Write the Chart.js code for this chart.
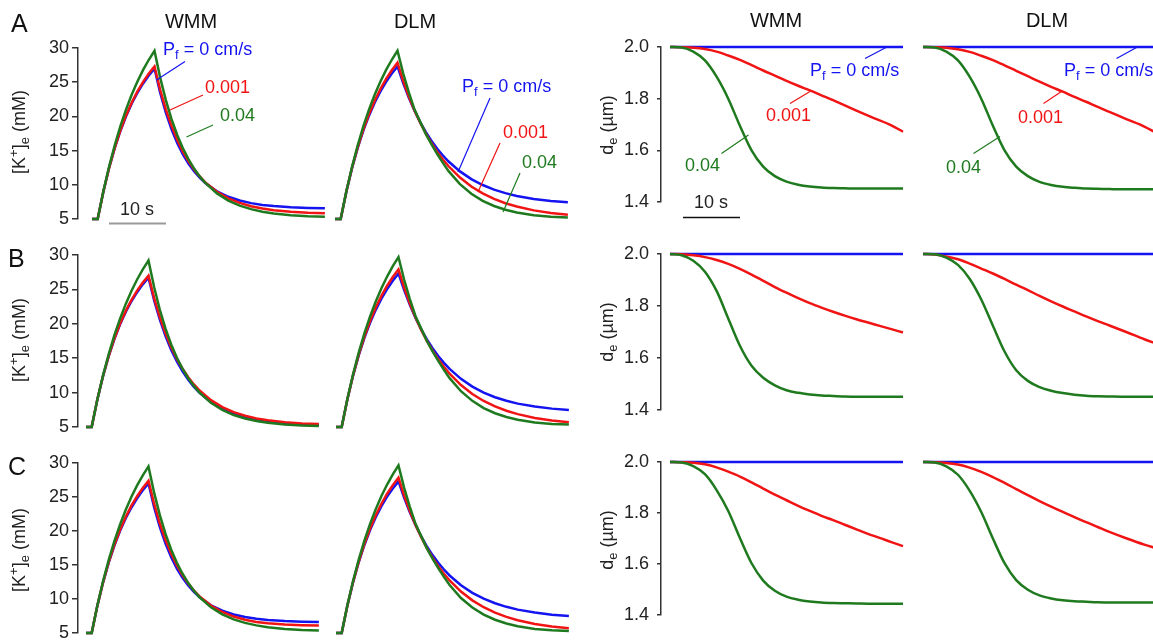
<!DOCTYPE html>
<html><head><meta charset="utf-8">
<script src="https://cdn.jsdelivr.net/npm/chart.js@4.4.1/dist/chart.umd.min.js"></script>
<style>
html,body{margin:0;padding:0;background:#fff;overflow:hidden;}
#fig{position:relative;width:1153px;height:641px;overflow:hidden;font-family:"Liberation Sans",Arial,Helvetica,sans-serif;}
#fig canvas{position:absolute;}
.t{position:absolute;white-space:nowrap;line-height:1;z-index:5;}
.t sub{font-size:72%;line-height:0;vertical-align:-0.32em;}
.t sup{font-size:72%;line-height:0;vertical-align:0.55em;}
.rot{position:absolute;white-space:nowrap;line-height:1;transform:translate(-50%,-50%) rotate(-90deg);z-index:5;}
.rot sub{font-size:72%;line-height:0;vertical-align:-0.32em;}
.rot sup{font-size:72%;line-height:0;vertical-align:0.55em;}
svg{position:absolute;left:0;top:0;z-index:4;}
</style></head>
<body><div id="fig"></div>
<script>
// ---------------- DATA ----------------
// time grid for [K+]e traces (s)
const tK = [0,1,2,3,4,5,6,7,8,9,10,11,12,13,14,15,16,17,18,19,20,22,24,26,28,30,32,35,38,41];
// time grid for de traces (s)
const tD = [0,2,4,6,8,10,12,14,16,18,20,22,24,26,28,30,32,35,38,40];

const seriesNames = ["Pf = 0 cm/s", "0.001", "0.04"];

// Row A, [K+]e (mM)
const kA_WMM_blue  = [5,5,8.99,12.42,15.35,17.87,20.03,21.88,23.46,24.82,25.99,26.99,23.46,20.54,18.12,16.11,14.45,13.08,11.95,11.01,10.23,9.05,8.25,7.70,7.32,7.06,6.89,6.72,6.62,6.57];
const kA_WMM_red   = [5,5,9.00,12.44,15.40,17.95,20.15,22.03,23.66,25.05,26.26,27.29,23.90,21.03,18.61,16.58,14.86,13.42,12.20,11.18,10.31,8.97,8.02,7.35,6.87,6.53,6.29,6.05,5.91,5.83];
const kA_WMM_green = [5,5,9.05,12.63,15.78,18.57,21.02,23.19,25.11,26.79,28.28,29.6,25.67,22.38,19.61,17.29,15.35,13.72,12.34,11.19,10.23,8.74,7.69,6.96,6.44,6.07,5.81,5.56,5.41,5.33];
const kA_DLM_blue  = [5,5,9.00,12.44,15.40,17.95,20.15,22.03,23.66,25.05,26.26,27.3,24.86,22.71,20.82,19.16,17.69,16.41,15.27,14.28,13.40,11.96,10.83,9.97,9.30,8.78,8.37,7.94,7.64,7.44];
const kA_DLM_red   = [5,5,9.01,12.49,15.50,18.11,20.36,22.32,24.01,25.48,26.75,27.85,25.21,22.92,20.88,19.08,17.48,16.07,14.81,13.70,12.71,11.06,9.76,8.74,7.94,7.31,6.82,6.26,5.88,5.61];
const kA_DLM_green = [5,5,9.05,12.63,15.78,18.57,21.02,23.19,25.11,26.79,28.28,29.6,26.3,23.5,21.0,19.2,17.4,15.9,14.5,13.2,12.0,10.1,8.7,7.65,6.9,6.35,5.95,5.55,5.33,5.22];
// Row B
const kB_WMM_blue  = [5,5,8.99,12.40,15.31,17.79,19.92,21.73,23.28,24.60,25.73,26.70,23.39,20.59,18.22,16.21,14.52,13.08,11.86,10.83,9.96,8.60,7.62,6.92,6.42,6.06,5.80,5.54,5.39,5.29];
const kB_WMM_red   = [5,5,8.99,12.42,15.35,17.87,20.03,21.88,23.46,24.82,25.99,26.99,23.74,20.97,18.62,16.61,14.91,13.46,12.23,11.19,10.30,8.90,7.89,7.16,6.63,6.25,5.97,5.69,5.52,5.42];
const kB_WMM_green = [5,5,8.98,12.51,15.60,18.35,20.76,22.89,24.78,26.44,27.90,29.2,25.31,22.04,19.29,17.00,15.06,13.45,12.09,10.95,9.99,8.51,7.47,6.74,6.23,5.86,5.61,5.36,5.21,5.13];
const kB_DLM_blue  = [5,5,9.00,12.44,15.40,17.95,20.15,22.03,23.66,25.05,26.26,27.3,24.9,22.75,20.86,19.2,17.73,16.45,15.32,14.33,13.45,12.0,10.87,10.0,9.33,8.81,8.4,7.97,7.67,7.47];
const kB_DLM_red   = [5,5,9.01,12.5,15.52,18.14,20.4,22.36,24.05,25.53,26.8,27.9,25.25,22.95,20.9,19.1,17.5,16.1,14.85,13.74,12.75,11.1,9.8,8.78,7.99,7.36,6.87,6.32,5.94,5.68];
const kB_DLM_green = [5,5,9.06,12.65,15.81,18.61,21.07,23.25,25.18,26.87,28.37,29.7,26.4,23.6,21.1,19.3,17.5,16.0,14.6,13.3,12.1,10.2,8.8,7.75,7.0,6.45,6.05,5.65,5.45,5.36];
// Row C
const kC_WMM_blue  = [5,5,8.99,12.42,15.35,17.87,20.03,21.88,23.46,24.82,25.99,26.99,23.47,20.56,18.15,16.14,14.48,13.11,11.98,11.04,10.26,9.08,8.28,7.73,7.35,7.09,6.92,6.75,6.65,6.6];
const kC_WMM_red   = [5,5,9.00,12.45,15.42,17.98,20.19,22.08,23.72,25.12,26.33,27.4,23.98,21.1,18.68,16.65,14.93,13.49,12.27,11.25,10.38,9.04,8.09,7.42,6.95,6.63,6.42,6.24,6.15,6.1];
const kC_WMM_green = [5,5,9.04,12.61,15.75,18.52,20.96,23.12,25.03,26.7,28.18,29.5,25.6,22.33,19.57,17.26,15.33,13.71,12.34,11.2,10.25,8.77,7.73,7.0,6.49,6.12,5.86,5.6,5.44,5.35];
const kC_DLM_blue  = [5,5,9.00,12.44,15.40,17.95,20.15,22.03,23.66,25.05,26.26,27.3,24.88,22.74,20.86,19.2,17.74,16.46,15.33,14.34,13.46,12.02,10.9,10.04,9.37,8.85,8.44,8.0,7.7,7.5];
const kC_DLM_red   = [5,5,9.01,12.49,15.50,18.11,20.36,22.32,24.01,25.48,26.75,27.85,25.21,22.92,20.88,19.08,17.48,16.07,14.82,13.72,12.73,11.09,9.8,8.79,8.0,7.37,6.88,6.33,5.96,5.7];
const kC_DLM_green = [5,5,9.06,12.65,15.8,18.6,21.05,23.22,25.15,26.83,28.33,29.65,26.35,23.55,21.05,19.25,17.45,15.95,14.55,13.25,12.05,10.15,8.75,7.7,6.95,6.4,6.0,5.6,5.4,5.3];

// de (um)
const dBlue        = [2.0,2.0,2.0,2.0,2.0,2.0,2.0,2.0,2.0,2.0,2.0,2.0,2.0,2.0,2.0,2.0,2.0,2.0,2.0,2.0];
const dA_WMM_red   = [2.000,1.999,1.997,1.992,1.982,1.967,1.950,1.930,1.909,1.889,1.869,1.850,1.832,1.813,1.794,1.774,1.754,1.725,1.697,1.672];
const dA_WMM_green = [2.000,1.998,1.982,1.948,1.885,1.800,1.695,1.600,1.537,1.500,1.479,1.467,1.460,1.456,1.454,1.453,1.452,1.452,1.452,1.452];
const dA_DLM_red   = [2.000,1.999,1.997,1.991,1.981,1.966,1.949,1.929,1.908,1.887,1.866,1.846,1.827,1.807,1.788,1.768,1.749,1.720,1.692,1.668];
const dA_DLM_green = [2.000,1.998,1.982,1.948,1.885,1.800,1.695,1.600,1.537,1.500,1.478,1.466,1.459,1.455,1.452,1.451,1.450,1.449,1.449,1.449];
const dB_WMM_red   = [2.000,1.999,1.995,1.988,1.977,1.962,1.943,1.921,1.897,1.873,1.851,1.830,1.811,1.794,1.778,1.763,1.749,1.730,1.711,1.698];
const dB_WMM_green = [2.000,1.995,1.974,1.932,1.858,1.752,1.647,1.570,1.524,1.495,1.476,1.466,1.460,1.456,1.454,1.452,1.451,1.451,1.451,1.451];
const dB_DLM_red   = [2.000,1.998,1.990,1.980,1.963,1.944,1.925,1.904,1.882,1.861,1.839,1.818,1.798,1.779,1.760,1.742,1.725,1.699,1.672,1.656];
const dB_DLM_green = [2.000,1.999,1.986,1.958,1.905,1.825,1.724,1.625,1.553,1.512,1.488,1.474,1.465,1.459,1.455,1.453,1.452,1.451,1.451,1.451];
const dC_WMM_red   = [2.000,1.999,1.997,1.991,1.979,1.962,1.943,1.920,1.896,1.872,1.850,1.828,1.808,1.789,1.772,1.754,1.736,1.710,1.686,1.670];
const dC_WMM_green = [2.000,1.998,1.984,1.952,1.890,1.808,1.702,1.603,1.535,1.495,1.472,1.460,1.453,1.449,1.447,1.446,1.445,1.444,1.444,1.444];
const dC_DLM_red   = [2.000,1.999,1.996,1.990,1.978,1.961,1.941,1.918,1.894,1.870,1.847,1.825,1.804,1.784,1.764,1.745,1.726,1.700,1.676,1.662];
const dC_DLM_green = [2.000,1.998,1.983,1.950,1.888,1.804,1.700,1.603,1.537,1.499,1.477,1.465,1.458,1.454,1.452,1.450,1.449,1.449,1.449,1.449];

const kTicks = [5,10,15,20,25,30];
const dTicks = [1.4,1.6,1.8,2.0];

// ---------------- STYLE ----------------
const BLUE = '#1414f0', RED = '#f01414', GREEN = '#1f7a1f';
const FONT = '"Liberation Sans", Arial, Helvetica, sans-serif';
const fig = document.getElementById('fig');

function makePanel(p, vals) {
  const AXW = 60, PADV = 24, PADR = 6, PADL = 6;
  const leftArea = p.axis ? p.axisX : p.t0X;
  const rightArea = p.t0X + p.tMax * p.pxs;
  const cl = leftArea - (p.axis ? AXW : PADL);
  const ct = p.yTop - PADV;
  const cw = Math.ceil(rightArea + PADR - cl);
  const ch = Math.ceil(p.yBot + PADV - ct);
  const cv = document.createElement('canvas');
  cv.width = cw; cv.height = ch;
  cv.style.left = cl + 'px'; cv.style.top = ct + 'px';
  cv.style.width = cw + 'px'; cv.style.height = ch + 'px';
  fig.appendChild(cv);
  const cols = [BLUE, RED, GREEN];
  const datasets = vals.map((v, j) => ({
    label: seriesNames[j],
    data: p.t.map((t, i) => ({x: t, y: v[i]})),
    borderColor: cols[j], borderWidth: 2.5, pointRadius: 0,
    tension: p.smooth ? 0.4 : 0,
    cubicInterpolationMode: p.smooth ? 'monotone' : 'default',
    clip: false, fill: false, order: 2 - j
  }));
  new Chart(cv, {
    type: 'line',
    data: {datasets},
    options: {
      responsive: false, animation: false, devicePixelRatio: 1,
      layout: {padding: {left: p.axis ? 0 : PADL, right: cw - (rightArea - cl), top: PADV, bottom: ch - (p.yBot - ct)}},
      plugins: {legend: {display: false}, tooltip: {enabled: false}},
      scales: {
        x: {type: 'linear', display: false, min: -(p.t0X - leftArea) / p.pxs, max: p.tMax},
        y: {
          type: 'linear', display: p.axis, min: p.ticks[0], max: p.ticks[p.ticks.length - 1],
          afterFit: s => { if (p.axis) s.width = AXW; },
          afterBuildTicks: s => { s.ticks = p.ticks.map(v => ({value: v})); },
          ticks: {font: {family: FONT, size: 18}, color: '#222', padding: p.tickPad,
                  callback: v => Number(v).toFixed(p.dec)},
          grid: {drawOnChartArea: false, drawTicks: true, tickLength: p.tickLen, color: '#333', lineWidth: 1.5},
          border: {display: true, color: '#333', width: 1.5}
        }
      }
    }
  });
}

// geometry of each panel (page pixels)
const rowsK = [{yTop: 48, yBot: 219, wmm: 92, dlm: 335}, {yTop: 255, yBot: 427, wmm: 86, dlm: 336}, {yTop: 463, yBot: 633, wmm: 86, dlm: 336}];
const rowsD = [{yTop: 47, yBot: 202, ax: 661, wmm: 670, dlm: 923, pxs: 5.825},
               {yTop: 254, yBot: 410, ax: 661, wmm: 670, dlm: 923, pxs: 5.825},
               {yTop: 462, yBot: 615, ax: 661, wmm: 670, dlm: 923, pxs: 5.825}];
const kData = [[kA_WMM_blue,kA_WMM_red,kA_WMM_green],[kA_DLM_blue,kA_DLM_red,kA_DLM_green],
               [kB_WMM_blue,kB_WMM_red,kB_WMM_green],[kB_DLM_blue,kB_DLM_red,kB_DLM_green],
               [kC_WMM_blue,kC_WMM_red,kC_WMM_green],[kC_DLM_blue,kC_DLM_red,kC_DLM_green]];
const dData = [[dBlue,dA_WMM_red,dA_WMM_green],[dBlue,dA_DLM_red,dA_DLM_green],
               [dBlue,dB_WMM_red,dB_WMM_green],[dBlue,dB_DLM_red,dB_DLM_green],
               [dBlue,dC_WMM_red,dC_WMM_green],[dBlue,dC_DLM_red,dC_DLM_green]];

rowsK.forEach((r, i) => {
  makePanel({axis: true, axisX: 78, t0X: r.wmm, pxs: 5.68, tMax: 41, yTop: r.yTop, yBot: r.yBot, ticks: kTicks, dec: 0, tickLen: 6, tickPad: 3, t: tK, smooth: false}, kData[2*i]);
  makePanel({axis: false, t0X: r.dlm, pxs: 5.68, tMax: 41, yTop: r.yTop, yBot: r.yBot, ticks: kTicks, dec: 0, tickLen: 6, tickPad: 3, t: tK, smooth: false}, kData[2*i+1]);
});
rowsD.forEach((r, i) => {
  makePanel({axis: true, axisX: r.ax, t0X: r.wmm, pxs: r.pxs, tMax: 40, yTop: r.yTop, yBot: r.yBot, ticks: dTicks, dec: 1, tickLen: 4, tickPad: 8, t: tD, smooth: true}, dData[2*i]);
  makePanel({axis: false, t0X: r.dlm, pxs: r.pxs, tMax: 40, yTop: r.yTop, yBot: r.yBot, ticks: dTicks, dec: 1, tickLen: 4, tickPad: 8, t: tD, smooth: true}, dData[2*i+1]);
});

// ---------------- TEXT ----------------
function txt(html, x, base, size, color, align) {
  const d = document.createElement('div');
  d.className = 't';
  d.innerHTML = html;
  d.style.fontSize = size + 'px';
  d.style.color = color;
  d.style.top = (base - 0.8465 * size) + 'px';
  d.style.left = x + 'px';
  if (align === 'center') d.style.transform = 'translateX(-50%)';
  fig.appendChild(d);
}
function rot(html, cx, cy, size) {
  const d = document.createElement('div');
  d.className = 'rot';
  d.innerHTML = html;
  d.style.fontSize = size + 'px';
  d.style.color = '#222';
  d.style.left = cx + 'px'; d.style.top = cy + 'px';
  fig.appendChild(d);
}
const PF = 'P<sub>f</sub> = 0 cm/s';
txt('A', 11, 32, 25, '#111'); txt('B', 8, 267, 25, '#111'); txt('C', 8, 475, 25, '#111');
txt('WMM', 191, 28, 20, '#111', 'center'); txt('DLM', 415, 28, 20, '#111', 'center');
txt('WMM', 776, 27, 20, '#111', 'center'); txt('DLM', 1047, 27, 20, '#111', 'center');
[132, 340, 550].forEach(cy => rot('[K<sup>+</sup>]<sub>e</sub> (mM)', 19, cy, 18));
[125, 332, 540].forEach(cy => rot('d<sub>e</sub> (&micro;m)', 607, cy, 18));
// labels, panel A
txt(PF, 163, 55, 18, BLUE); txt('0.001', 205, 93, 18, RED); txt('0.04', 220, 121.5, 18, GREEN);
txt(PF, 462, 92, 18, BLUE); txt('0.001', 503, 138, 18, RED); txt('0.04', 522, 168, 18, GREEN);
txt(PF, 810, 76, 18, BLUE); txt('0.001', 766, 121.5, 18, RED); txt('0.04', 685, 171.5, 18, GREEN);
txt(PF, 1064, 76, 18, BLUE); txt('0.001', 1018, 123, 18, RED); txt('0.04', 946, 173, 18, GREEN);
txt('10 s', 137, 215, 18, '#222', 'center'); txt('10 s', 711, 208, 18, '#222', 'center');

// leader lines and scale bars
const svgNS = 'http://www.w3.org/2000/svg';
const svg = document.createElementNS(svgNS, 'svg');
svg.setAttribute('width', 1153); svg.setAttribute('height', 641);
fig.appendChild(svg);
function ln(x1, y1, x2, y2, c, w) {
  const l = document.createElementNS(svgNS, 'line');
  l.setAttribute('x1', x1); l.setAttribute('y1', y1); l.setAttribute('x2', x2); l.setAttribute('y2', y2);
  l.setAttribute('stroke', c); l.setAttribute('stroke-width', w);
  svg.appendChild(l);
}
ln(185, 61.5, 156.5, 80, BLUE, 1.2); ln(203, 95, 170, 110, RED, 1.2); ln(213, 125, 186.5, 137, GREEN, 1.2);
ln(490, 98, 458, 172, BLUE, 1.2); ln(500, 143, 478, 192, RED, 1.2); ln(520, 173, 503, 212, GREEN, 1.2);
ln(865, 58.5, 886, 47.5, BLUE, 1.2); ln(790, 103.5, 810, 91.5, RED, 1.2); ln(721.5, 153.5, 748.5, 135, GREEN, 1.2);
ln(1116.5, 58.5, 1136.5, 47.5, BLUE, 1.2); ln(1043.5, 103.5, 1061.5, 91.5, RED, 1.2); ln(973.5, 153.5, 1000, 136.5, GREEN, 1.2);
ln(109, 223.5, 166, 223.5, '#999', 2); ln(683, 217.5, 740, 217.5, '#111', 1.5);
</script>
</body></html>
